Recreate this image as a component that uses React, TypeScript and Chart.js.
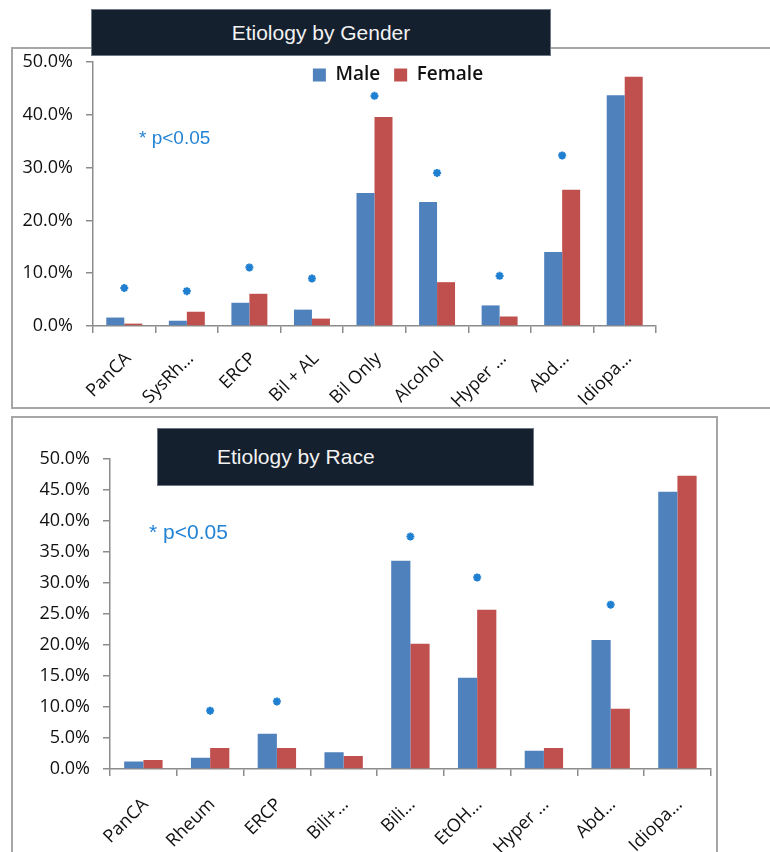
import React, { useEffect, useRef } from 'react';
import { Chart, registerables } from 'chart.js';

Chart.register(...registerables);

// ---------- data ----------
const genderCategories = ['PanCA', 'SysRh…', 'ERCP', 'Bil + AL', 'Bil Only', 'Alcohol', 'Hyper …', 'Abd…', 'Idiopa…'];
const genderMale = [1.6, 1.0, 4.4, 3.1, 25.2, 23.5, 3.9, 14.0, 43.7];
const genderFemale = [0.45, 2.7, 6.1, 1.4, 39.6, 8.3, 1.8, 25.8, 47.2];
const genderSignificance = [7.2, 6.6, 11.1, 9.0, 43.6, 29.0, 9.5, 32.3, null];
const genderTicks = [0, 10, 20, 30, 40, 50];

const raceCategories = ['PanCA', 'Rheum', 'ERCP', 'Bili+…', 'Bili…', 'EtOH…', 'Hyper …', 'Abd…', 'Idiopa…'];
const raceSeriesA = [1.2, 1.8, 5.7, 2.7, 33.6, 14.7, 2.95, 20.8, 44.7];
const raceSeriesB = [1.45, 3.4, 3.4, 2.1, 20.2, 25.7, 3.4, 9.7, 47.3];
const raceSignificance = [null, 9.4, 10.9, null, 37.5, 30.9, null, 26.5, null];
const raceTicks = [0, 5, 10, 15, 20, 25, 30, 35, 40, 45, 50];

const seriesNames = ['Male', 'Female'];
const raceSeriesNames = ['Group A', 'Group B'];

// ---------- styles ----------
const BLUE = '#4f81bd';
const RED = '#c0504d';
const STAR = '#1f7fd0';
const FONT = "'Open Sans', sans-serif";
const AXIS = '#8c8c8c';

type Cfg = {
  cats: string[];
  a: number[];
  b: number[];
  sig: (number | null)[];
  names: string[];
  ticks: number[];
  yWidth: number;
  xHeight: number;
  padding: { left: number; right: number; top: number; bottom: number };
  legend: boolean;
  legendCenter: { x: number; y: number };
  labelOffset: number;
  xPadding: number;
};

const LEGEND_FONT = 19;
const LEGEND_PAD = 14;

function buildConfig(c: Cfg): any {
  const placeLegend = {
    id: 'placeLegend',
    afterLayout(chart: any) {
      const lg = chart.legend;
      if (!lg || !c.legend) return;
      const w = lg.right - lg.left;
      const h = lg.bottom - lg.top;
      lg.left = c.legendCenter.x - w / 2;
      lg.right = lg.left + w;
      lg.top = c.legendCenter.y - LEGEND_PAD - LEGEND_FONT / 2;
      lg.bottom = lg.top + h;
    },
  };
  return {
    type: 'bar',
    data: {
      labels: c.cats,
      datasets: [
        {
          type: 'line',
          label: 'p<0.05',
          data: c.sig,
          showLine: false,
          pointStyle: 'star',
          pointRadius: 4,
          pointBorderWidth: 2.2,
          pointBorderColor: STAR,
          pointBackgroundColor: STAR,
          order: 0,
        },
        {
          label: c.names[0],
          data: c.a,
          backgroundColor: BLUE,
          borderWidth: 0,
          order: 1,
        },
        {
          label: c.names[1],
          data: c.b,
          backgroundColor: RED,
          borderWidth: 0,
          order: 1,
        },
      ],
    },
    options: {
      responsive: false,
      animation: false,
      devicePixelRatio: 1,
      layout: { padding: c.padding },
      datasets: { bar: { categoryPercentage: 0.575, barPercentage: 1 } },
      plugins: {
        tooltip: { enabled: false },
        legend: {
          display: c.legend,
          position: 'top',
          align: 'center',
          labels: {
            font: { family: FONT, size: LEGEND_FONT, weight: '600' },
            color: '#111',
            boxWidth: 13,
            boxHeight: 13,
            padding: LEGEND_PAD,
            filter: (item: any) => item.datasetIndex > 0,
          },
        },
      },
      scales: {
        x: {
          grid: {
            display: true,
            drawOnChartArea: false,
            drawTicks: true,
            tickLength: 7,
            color: AXIS,
            lineWidth: 1.5,
            offset: true,
          },
          border: { display: true, color: AXIS, width: 1.5 },
          ticks: {
            minRotation: 45,
            maxRotation: 45,
            autoSkip: false,
            padding: c.xPadding,
            labelOffset: c.labelOffset,
            font: { family: FONT, size: 18 },
            color: '#111',
          },
          afterFit: (s: any) => {
            s.height = c.xHeight;
          },
        },
        y: {
          min: c.ticks[0],
          max: c.ticks[c.ticks.length - 1],
          afterBuildTicks: (s: any) => {
            s.ticks = c.ticks.map((v) => ({ value: v }));
          },
          grid: {
            display: true,
            drawOnChartArea: false,
            drawTicks: true,
            tickLength: 7,
            color: AXIS,
            lineWidth: 1.5,
          },
          border: { display: true, color: AXIS, width: 1.5 },
          ticks: {
            padding: 13,
            font: { family: FONT, size: 18 },
            color: '#111',
            callback: (v: any) => Number(v).toFixed(1) + '%',
          },
          afterFit: (s: any) => {
            s.width = c.yWidth;
          },
        },
      },
    },
    plugins: [placeLegend],
  };
}

function BarChart(props: { cfg: Cfg; width: number; height: number; style: React.CSSProperties }) {
  const ref = useRef<HTMLCanvasElement | null>(null);
  useEffect(() => {
    if (!ref.current) return;
    const chart = new Chart(ref.current, buildConfig(props.cfg));
    return () => chart.destroy();
  }, []);
  return <canvas ref={ref} width={props.width} height={props.height} style={{ position: 'absolute', ...props.style }} />;
}

// top canvas starts at page y=10, legend (height 19+14+10=43) sits above the plot area
const genderCfg: Cfg = {
  cats: genderCategories,
  a: genderMale,
  b: genderFemale,
  sig: genderSignificance,
  names: seriesNames,
  ticks: genderTicks,
  yWidth: 79,
  xHeight: 82,
  padding: { left: 0, right: 114, top: 9, bottom: 0 },
  legend: true,
  legendCenter: { x: 384, y: 65 },
  labelOffset: 4,
  xPadding: 15,
};

const raceCfg: Cfg = {
  cats: raceCategories,
  a: raceSeriesA,
  b: raceSeriesB,
  sig: raceSignificance,
  names: raceSeriesNames,
  ticks: raceTicks,
  yWidth: 96,
  xHeight: 83,
  padding: { left: 0, right: 1, top: 40, bottom: 0 },
  legend: false,
  legendCenter: { x: 0, y: 0 },
  labelOffset: 2,
  xPadding: 18,
};

export default function App() {
  const titleBase: React.CSSProperties = {
    position: 'absolute',
    background: '#15202f',
    border: '1px solid #6f7784',
    boxSizing: 'border-box',
    color: '#f2f2f2',
    fontFamily: "'Liberation Sans', Arial, sans-serif",
    fontSize: 21,
    display: 'flex',
    alignItems: 'center',
  };
  const note: React.CSSProperties = {
    position: 'absolute',
    color: '#2383d5',
    fontFamily: "'Liberation Sans', Arial, sans-serif",
    lineHeight: 1,
    whiteSpace: 'nowrap',
  };
  return (
    <div style={{ position: 'absolute', left: 0, top: 0, width: 770, height: 852, overflow: 'hidden', background: '#fff' }}>
      {/* top panel frame */}
      <div style={{ position: 'absolute', left: 11, top: 47, width: 800, height: 362, border: '2px solid #a6a6a6', boxSizing: 'border-box' }} />
      <BarChart cfg={genderCfg} width={756} height={398} style={{ left: 14, top: 10 }} />
      <div style={{ ...titleBase, left: 91, top: 9, width: 460, height: 47, justifyContent: 'center' }}>Etiology by Gender</div>
      <div style={{ ...note, left: 139, top: 128, fontSize: 19 }}>* p&lt;0.05</div>

      {/* bottom panel frame */}
      <div style={{ position: 'absolute', left: 11, top: 416, width: 707, height: 460, border: '2px solid #a6a6a6', boxSizing: 'border-box' }} />
      <BarChart cfg={raceCfg} width={703} height={433} style={{ left: 14, top: 419 }} />
      <div style={{ ...titleBase, left: 157, top: 428, width: 377, height: 58, paddingLeft: 59 }}>Etiology by Race</div>
      <div style={{ ...note, left: 149, top: 521, fontSize: 21 }}>* p&lt;0.05</div>
    </div>
  );
}
